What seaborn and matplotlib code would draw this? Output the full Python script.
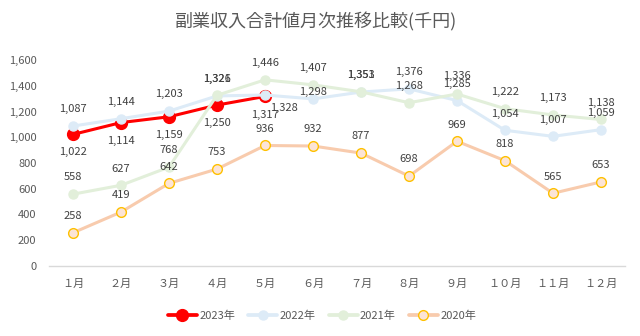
import numpy as np
import pandas as pd
import matplotlib
matplotlib.use("Agg")
import matplotlib.pyplot as plt
import seaborn as sns
from matplotlib.lines import Line2D

months = ["１月", "２月", "３月", "４月", "５月", "６月", "７月", "８月", "９月", "１０月", "１１月", "１２月"]
v2023 = [1022, 1114, 1159, 1250, 1317]
v2022 = [1087, 1144, 1203, 1321, 1328, 1298, 1351, 1376, 1285, 1054, 1007, 1059]
v2021 = [558, 627, 768, 1326, 1446, 1407, 1353, 1268, 1336, 1222, 1173, 1138]
v2020 = [258, 419, 642, 753, 936, 932, 877, 698, 969, 818, 565, 653]
series_names = ["2023年", "2022年", "2021年", "2020年"]
yticks = [0, 200, 400, 600, 800, 1000, 1200, 1400, 1600]
title = "副業収入合計値月次推移比較(千円)"

sns.set_theme(style="white")
plt.rcParams["font.family"] = ["Noto Sans CJK JP", "DejaVu Sans"]

fig = plt.figure(figsize=(6.4, 3.36), dpi=100)
ax = fig.add_axes([49/640, 1-266/336, 576/640, 206/336])

styles = {
    "2023年": dict(color="#FF0000", lw=2.2, mfc="#FF0000", mec="#FF0000", ms=8.5, z=3),
    "2022年": dict(color="#DDEBF7", lw=2.2, mfc="#DDEBF7", mec="#DDEBF7", ms=6.5, z=4),
    "2021年": dict(color="#E2EFDA", lw=2.2, mfc="#E2EFDA", mec="#E2EFDA", ms=6.5, z=5),
    "2020年": dict(color="#F8CBAD", lw=2.2, mfc="#FCE4D6", mec="#FFC000", ms=7, z=6),
}
data = {"2023年": v2023, "2022年": v2022, "2021年": v2021, "2020年": v2020}
# label offsets in points (dx, dy)
default_off = {"2023年": (0, -13), "2022年": (0, 12), "2021年": (0, 12), "2020年": (0, 12)}
override_off = {("2022年", 4): (14, -9), ("2022年", 5): (0, 5), ("2021年", 8): (0, 13)}

handles = []
for name in series_names:
    vals = data[name]
    st = styles[name]
    df = pd.DataFrame({"x": np.arange(len(vals)), "y": vals})
    sns.lineplot(data=df, x="x", y="y", ax=ax, color=st["color"], linewidth=st["lw"],
                 marker="o", markersize=st["ms"], markerfacecolor=st["mfc"],
                 markeredgecolor=st["mec"], markeredgewidth=1.0, zorder=st["z"])
    for i, v in enumerate(vals):
        dx, dy = override_off.get((name, i), default_off[name])
        ax.annotate(f"{v:,}", (i, v), xytext=(dx, dy), textcoords="offset points",
                    ha="center", va="center", fontsize=8, color="#404040", zorder=10)
    handles.append(Line2D([], [], color=st["color"], lw=st["lw"] + 0.5, marker="o",
                          markersize=st["ms"], markerfacecolor=st["mfc"],
                          markeredgecolor=st["mec"]))

ax.set_xlim(-0.5, len(months) - 0.5)
ax.set_ylim(0, 1600)
ax.set_xticks(np.arange(len(months)))
ax.set_xticklabels(months)
ax.set_yticks(yticks)
ax.set_yticklabels([f"{t:,}" for t in yticks])
ax.tick_params(axis="both", length=0, labelsize=8, colors="#595959")
ax.tick_params(axis="x", pad=9)
ax.tick_params(axis="y", pad=9)
ax.set_xlabel("")
ax.set_ylabel("")
for s in ["top", "right", "left"]:
    ax.spines[s].set_visible(False)
ax.spines["bottom"].set_color("#D9D9D9")
ax.spines["bottom"].set_linewidth(1.0)
ax.grid(False)

fig.text(316/640, 1-22/336, title, ha="center", va="center", fontsize=13, color="#595959")
fig.legend(handles, series_names, loc="center", bbox_to_anchor=(322/640, 1-316/336),
           ncol=4, frameon=False, fontsize=8, handlelength=2.6, columnspacing=1.2,
           handletextpad=0.2, labelcolor="#595959")

fig.savefig("out.png", dpi=100)
